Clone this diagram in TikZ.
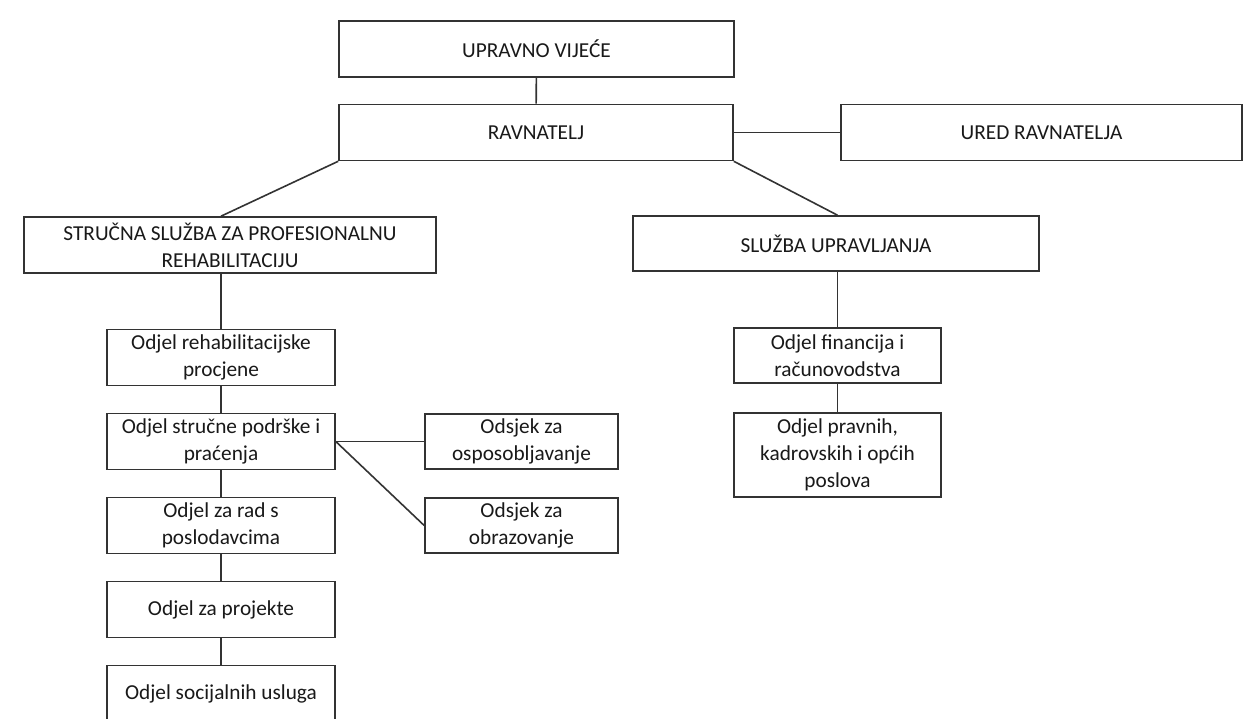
\documentclass[tikz,border=0pt]{standalone}
\usepackage{fontspec}
\setmainfont{Carlito}
\usetikzlibrary{positioning}

\begin{document}
\begin{tikzpicture}[x=1pt, y=-1pt, node distance=84pt, auto,
    box/.style={draw=black!80, line width=1.6pt, rectangle, align=center, inner sep=2pt, text=black!90, font=\fontsize{21.3}{27}\selectfont},
    col/.style={box, minimum width=228pt, minimum height=56pt},
    sub/.style={box, minimum width=193pt, minimum height=55pt},
    link/.style={draw=black!80, line width=1.6pt}]
    \useasboundingbox [fill=white] (0,0) rectangle (1260,719);
    \node [box, minimum width=395pt, minimum height=56pt] (vijece) at (536.5,49) {UPRAVNO VIJEĆE};
    \node [box, minimum width=394pt, minimum height=56pt] (ravnatelj) at (536,132.5) {RAVNATELJ};
    \node [box, minimum width=401pt, minimum height=56pt] (ured) at (1041.5,132.5) {URED RAVNATELJA};
    \node [box, minimum width=412pt, minimum height=56pt] (strucna) at (230,245) {STRUČNA SLUŽBA ZA PROFESIONALNU\\REHABILITACIJU};
    \node [box, minimum width=406pt, minimum height=55pt] (upravljanje) at (836,243.5) {SLUŽBA UPRAVLJANJA};
    \node [col] (procjena) at (221,357.5) {Odjel rehabilitacijske\\procjene};
    \node [col, below of=procjena] (podrska) {Odjel stručne podrške i\\praćenja};
    \node [col, below of=podrska] (poslodavci) {Odjel za rad s\\poslodavcima};
    \node [col, below of=poslodavci] (projekti) {Odjel za projekte};
    \node [col, below of=projekti] (socijalne) {Odjel socijalnih usluga};
    \node [sub] (osposobljavanje) at (521.5,441.5) {Odsjek za\\osposobljavanje};
    \node [sub, below of=osposobljavanje] (obrazovanje) {Odsjek za\\obrazovanje};
    \node [box, minimum width=207pt, minimum height=55pt] (financije) at (837.5,355.5) {Odjel financija i\\računovodstva};
    \node [box, minimum width=207pt, minimum height=84pt, below of=financije, node distance=99.5pt] (pravni) {Odjel pravnih,\\kadrovskih i općih\\poslova};
    \draw [link] (vijece) -- (ravnatelj);
    \draw [link] (ravnatelj.east) -- (ured.west);
    \draw [link] (ravnatelj.south west) -- (strucna.north -| procjena.north);
    \draw [link] (ravnatelj.south east) -- (upravljanje.north -| financije.north);
    \draw [link] (procjena.north |- strucna.south) -- (procjena.north);
    \draw [link] (procjena) -- (podrska);
    \draw [link] (podrska) -- (poslodavci);
    \draw [link] (poslodavci) -- (projekti);
    \draw [link] (projekti) -- (socijalne);
    \draw [link] (podrska.east) -- (osposobljavanje.west);
    \draw [link] (podrska.east) -- (obrazovanje.west);
    \draw [link] (financije.north |- upravljanje.south) -- (financije.north);
    \draw [link] (financije) -- (pravni);
  \end{tikzpicture}
\end{document}
